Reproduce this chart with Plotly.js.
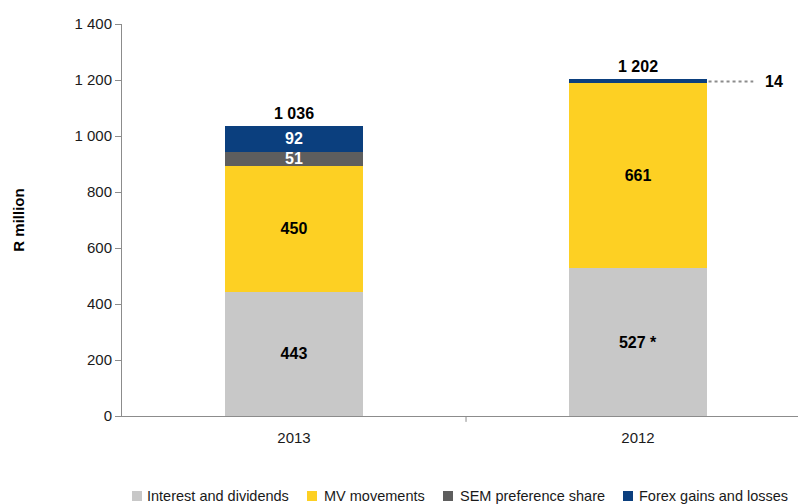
<!DOCTYPE html>
<html><head><meta charset="utf-8">
<script src="https://cdn.plot.ly/plotly-3.0.1.min.js"></script>
<style>html,body{margin:0;padding:0;background:#fff}#c{width:798px;height:504px}</style>
</head><body><div id="c"></div>
<script>
const categories = ['2013', '2012'];
const interestDividends = [443, 527];
const mvMovements = [450, 661];
const semPreference = [51, 0];
const forexGains = [92, 14];
const interestLabels = ['443', '527 *'];
const mvLabels = ['450', '661'];
const semLabels = ['51', ''];
const forexLabels = ['92', ''];
const totalLabels = ['1 036', '1 202'];
const calloutLabel = '14';
const yTickVals = [0, 200, 400, 600, 800, 1000, 1200, 1400];
const yTickText = ['0', '200', '400', '600', '800', '1 000', '1 200', '1 400'];

const FONT = '"Liberation Sans", Arial, sans-serif';
const colors = ['#C8C8C8', '#FDD023', '#5E5E5E', '#0B3F7E'];
const textColors = ['#000', '#000', '#fff', '#fff'];
const series = [
  {name: 'Interest and dividends', y: interestDividends, text: interestLabels},
  {name: 'MV movements', y: mvMovements, text: mvLabels},
  {name: 'SEM preference share', y: semPreference, text: semLabels},
  {name: 'Forex gains and losses', y: forexGains, text: forexLabels}
];
const traces = series.map((s, i) => ({
  type: 'bar', x: categories, y: s.y, name: s.name,
  text: s.text, texttemplate: '%{text}', textposition: 'inside', insidetextanchor: 'middle',
  constraintext: 'none',
  textfont: {family: FONT, size: 16, color: textColors[i], weight: 'bold'},
  marker: {color: colors[i], line: {width: 0}},
  width: 0.4, hoverinfo: 'skip', showlegend: false
}));

const totals = categories.map((c, i) => interestDividends[i] + mvMovements[i] + semPreference[i] + forexGains[i]);
const annotations = categories.map((c, i) => ({
  x: i, y: totals[i], xref: 'x', yref: 'y', text: '<b>' + totalLabels[i] + '</b>',
  showarrow: false, yanchor: 'bottom', yshift: 2,
  font: {family: FONT, size: 16, color: '#000'}
}));
const calloutY = interestDividends[1] + mvMovements[1] + semPreference[1] + forexGains[1] / 2;
annotations.push({
  x: 1.395, y: calloutY, xref: 'x', yref: 'y', text: '<b>' + calloutLabel + '</b>',
  showarrow: false, xanchor: 'center', font: {family: FONT, size: 16, color: '#000'}
});

// custom legend (pixel positions converted to paper coords)
const L = 122, W = 676, B = 416, H = 392;
const px = v => (v - L) / W, py = v => (B - v) / H;
const legendSquareX = [132, 307, 443, 623];
const legendTextX = [145, 322, 458, 637];
const shapes = [
  {type: 'line', xref: 'x', yref: 'paper', x0: 0.5, x1: 0.5, y0: 0, y1: -0.015, line: {color: '#8c8c8c', width: 1}},
  {type: 'line', xref: 'x', yref: 'y', x0: 1.205, x1: 1.335, y0: calloutY, y1: calloutY, line: {color: '#8c8c8c', width: 2, dash: 'dot'}}
];
series.forEach((s, i) => {
  shapes.push({type: 'rect', xref: 'paper', yref: 'paper', x0: px(legendSquareX[i]), x1: px(legendSquareX[i] + 10),
    y0: py(491), y1: py(501), fillcolor: colors[i], line: {width: 0}});
  annotations.push({xref: 'paper', yref: 'paper', x: px(legendTextX[i]), y: py(496), xanchor: 'left', yanchor: 'middle',
    text: s.name, showarrow: false, font: {family: FONT, size: 14.5, color: '#1a1a1a'}});
});

const layout = {
  width: 798, height: 504,
  margin: {l: 122, r: 0, t: 24, b: 88},
  paper_bgcolor: '#fff', plot_bgcolor: '#fff',
  barmode: 'stack', showlegend: false,
  font: {family: FONT, size: 14, color: '#1a1a1a'},
  xaxis: {
    type: 'category', range: [-0.5, 1.465], showgrid: false, zeroline: false,
    showline: true, linecolor: '#8c8c8c', linewidth: 1,
    ticks: '', tickfont: {family: FONT, size: 15, color: '#1a1a1a'}, ticklabelstandoff: 8
  },
  yaxis: {
    range: [0, 1400], tickvals: yTickVals, ticktext: yTickText,
    showgrid: false, zeroline: false, showline: true, linecolor: '#8c8c8c', linewidth: 1,
    ticks: 'outside', ticklen: 6, tickcolor: '#8c8c8c',
    tickfont: {family: FONT, size: 15, color: '#1a1a1a'},
    title: {text: '<b>R million</b>', font: {family: FONT, size: 15, color: '#000'}, standoff: 46}
  },
  shapes: shapes,
  annotations: annotations
};
Plotly.newPlot('c', traces, layout, {displayModeBar: false, staticPlot: true});
</script></body></html>
